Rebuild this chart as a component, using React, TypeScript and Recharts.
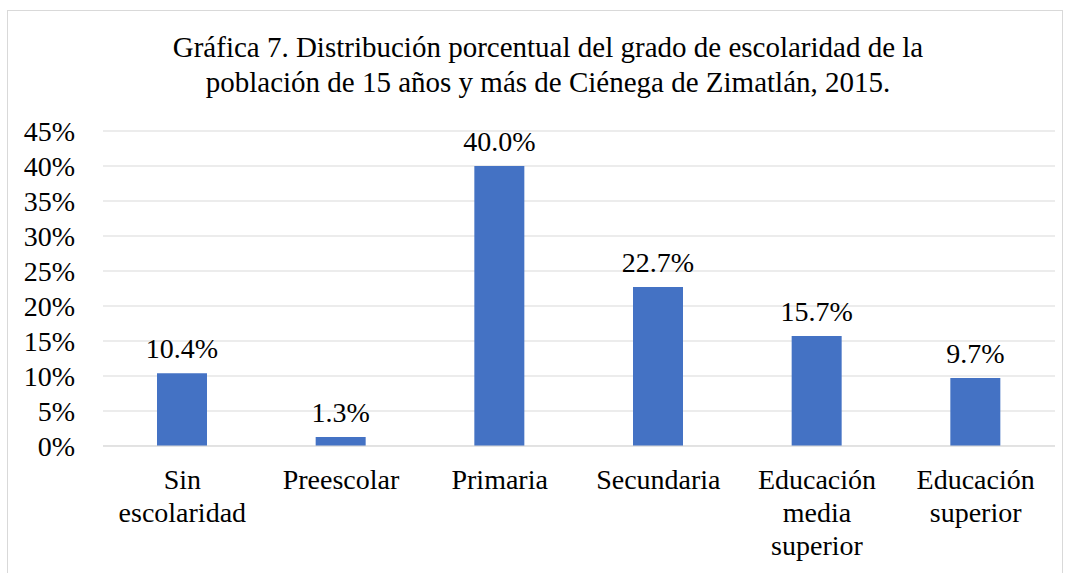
import { BarChart, Bar, XAxis, YAxis, CartesianGrid, LabelList } from 'recharts';

// Escolaridad, Ciénega de Zimatlán 2015 — porcentajes.
const categories = ['Sin escolaridad', 'Preescolar', 'Primaria', 'Secundaria', 'Educación media superior', 'Educación superior'];
const tickLines: string[][] = [
  ['Sin', 'escolaridad'],
  ['Preescolar'],
  ['Primaria'],
  ['Secundaria'],
  ['Educación', 'media', 'superior'],
  ['Educación', 'superior'],
];
const values = [10.4, 1.3, 40.0, 22.7, 15.7, 9.7];
const yTicks = [0, 5, 10, 15, 20, 25, 30, 35, 40, 45];

const rows = categories.map((name, i) => ({ name, idx: i, value: values[i] }));

const FONT = '"Liberation Serif", "Times New Roman", serif';
const FS = 28;

function CategoryTick(props: any) {
  const { x, y, payload } = props;
  const lines = tickLines[payload.index] ?? [String(payload.value)];
  return (
    <text x={x} y={y} textAnchor="middle" fontFamily={FONT} fontSize={FS} fill="#000">
      {lines.map((l, i) => (
        <tspan key={i} x={x} dy={i === 0 ? 35 : 33}>
          {l}
        </tspan>
      ))}
    </text>
  );
}

export default function App() {
  return (
    <div style={{ position: 'absolute', left: 0, top: 0, width: 1070, height: 573, background: '#fff', overflow: 'hidden' }}>
      <div
        style={{
          position: 'absolute',
          left: 7,
          top: 10,
          width: 1056,
          height: 600,
          border: '1px solid #d9d9d9',
          boxSizing: 'border-box',
        }}
      />
      <div
        style={{
          position: 'absolute',
          left: 0,
          top: 30,
          width: 1096,
          textAlign: 'center',
          fontFamily: FONT,
          fontSize: 29,
          lineHeight: '35px',
          color: '#000',
        }}
      >
        Gráfica 7. Distribución porcentual del grado de escolaridad de la
        <br />
        población de 15 años y más de Ciénega de Zimatlán, 2015.
      </div>
      <div style={{ position: 'absolute', left: 0, top: 0 }}>
        <BarChart width={1070} height={573} data={rows} margin={{ top: 131, right: 15, bottom: 97, left: 0 }} barSize={50}>
          <CartesianGrid stroke="#d9d9d9" vertical={false} />
          <XAxis
            dataKey="name"
            axisLine={{ stroke: '#d9d9d9' }}
            tickLine={false}
            interval={0}
            tick={<CategoryTick />}
          />
          <YAxis
            width={103}
            domain={[0, 45]}
            ticks={yTicks}
            interval={0}
            axisLine={false}
            tickLine={false}
            tickSize={0}
            tickMargin={28}
            tickFormatter={(v: number) => `${v}%`}
            tick={{ fontFamily: FONT, fontSize: FS, fill: '#000' }}
          />
          <Bar dataKey="value" fill="#4472C4" isAnimationActive={false}>
            <LabelList
              dataKey="value"
              position="top"
              offset={15}
              formatter={(v: any) => `${Number(v).toFixed(1)}%`}
              style={{ fontFamily: FONT, fontSize: FS, fill: '#000' }}
            />
          </Bar>
        </BarChart>
      </div>
    </div>
  );
}
